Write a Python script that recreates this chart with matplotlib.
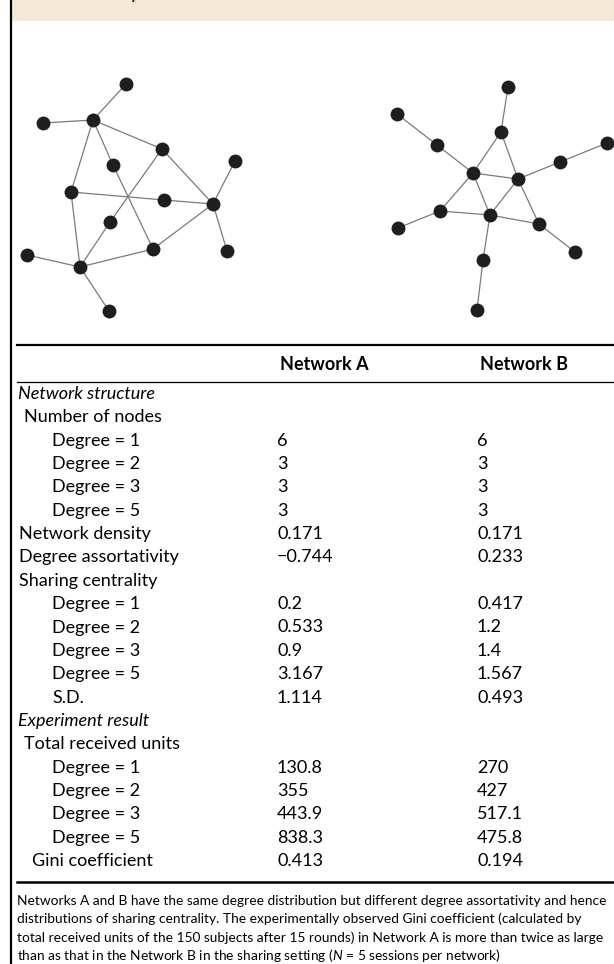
import matplotlib
matplotlib.use("Agg")
import matplotlib.pyplot as plt

plt.rcParams['font.family'] = ['Lato', 'DejaVu Sans']
plt.rcParams['mathtext.fontset'] = 'custom'
plt.rcParams['mathtext.rm'] = 'Lato'
plt.rcParams['mathtext.it'] = 'Lato:italic'

# network layouts (node positions) and edge lists
net_a_x = [126, 43, 93, 162, 113, 235, 71, 164, 213, 110, 153, 27, 80, 227, 109]
net_a_y = [84, 123, 120, 149, 165, 161, 192, 200, 204, 222, 249, 255, 267, 251, 311]
net_a_edges = [(0, 2), (1, 2), (2, 3), (2, 4), (2, 6), (3, 8), (3, 9), (4, 10),
               (6, 7), (7, 8), (5, 8), (8, 13), (8, 10), (6, 12), (9, 12),
               (10, 12), (11, 12), (12, 14)]

net_b_x = [508, 397, 501, 437, 607, 560, 473, 518, 440, 490, 539, 398, 575, 483, 477]
net_b_y = [87, 114, 132, 145, 143, 162, 173, 179, 211, 215, 224, 228, 252, 260, 310]
net_b_edges = [(0, 2), (2, 6), (2, 7), (1, 3), (3, 6), (6, 7), (6, 8), (6, 9),
               (7, 5), (5, 4), (7, 9), (7, 10), (8, 9), (8, 11), (9, 10),
               (10, 12), (9, 13), (13, 14)]

# table content
col_headers = ["Network A", "Network B"]
row_labels = ["Network structure", "Number of nodes",
              "Degree = 1", "Degree = 2", "Degree = 3", "Degree = 5",
              "Network density", "Degree assortativity", "Sharing centrality",
              "Degree = 1", "Degree = 2", "Degree = 3", "Degree = 5", "S.D.",
              "Experiment result", "Total received units",
              "Degree = 1", "Degree = 2", "Degree = 3", "Degree = 5",
              "Gini coefficient"]
row_kind = ["section", "group", "item", "item", "item", "item",
            "plain", "plain", "plain", "item", "item", "item", "item", "item",
            "section", "group", "item", "item", "item", "item", "gini"]
net_a_vals = [None, None, 6, 3, 3, 3, 0.171, -0.744, None,
              0.2, 0.533, 0.9, 3.167, 1.114, None, None,
              130.8, 355, 443.9, 838.3, 0.413]
net_b_vals = [None, None, 6, 3, 3, 3, 0.171, 0.233, None,
              0.417, 1.2, 1.4, 1.567, 0.493, None, None,
              270, 427, 517.1, 475.8, 0.194]

footnote = [
    "Networks A and B have the same degree distribution but different degree assortativity and hence",
    "distributions of sharing centrality. The experimentally observed Gini coefficient (calculated by",
    "total received units of the 150 subjects after 15 rounds) in Network A is more than twice as large",
    r"than as that in the Network B in the sharing setting ($N$ = 5 sessions per network)",
]

W, H = 614, 964
fig = plt.figure(figsize=(W / 100, H / 100), dpi=100)
ax = fig.add_axes([0, 0, 1, 1])
ax.set_xlim(0, W)
ax.set_ylim(H, 0)
ax.axis('off')

# header band and left frame
ax.axhspan(0, 20.5, xmin=11 / W, xmax=1, color='#f5e9d5', lw=0, zorder=0)
ax.axvline(10.5, color='black', lw=1.6)
fig.text(130 / W, 1 + 1.5 / H, "y", fontsize=12, fontweight='bold',
         color='#222222', va='baseline')


def draw_net(xs, ys, edges):
    for i, j in edges:
        ax.plot([xs[i], xs[j]], [ys[i], ys[j]], color='#7a7a7a', lw=0.9,
                zorder=1, solid_capstyle='butt')
    ax.scatter(xs, ys, s=100, color='#1e1e1e', zorder=2, linewidths=0)


draw_net(net_a_x, net_a_y, net_a_edges)
draw_net(net_b_x, net_b_y, net_b_edges)

# table rules
ax.plot([17, W], [345, 345], color='black', lw=1.6)
ax.plot([17, W], [382, 382], color='black', lw=0.9)
ax.plot([17, W], [882, 882], color='black', lw=1.8)

fs = 13.0
col_x = [277, 477]
for x, h in zip(col_x, col_headers):
    ax.text(x + 3, 365, h, fontsize=fs, fontweight='bold', va='center', ha='left')

indent = {"section": 18, "group": 24, "item": 52, "plain": 19, "gini": 32}
row_y0, row_dy = 394, 23.35


def fmt(v):
    if v is None:
        return ""
    return f"{v:g}".replace("-", "\u2212")


for k, (lab, kind) in enumerate(zip(row_labels, row_kind)):
    y = row_y0 + k * row_dy
    style = 'italic' if kind == "section" else 'normal'
    ax.text(indent[kind], y, lab, fontsize=fs, style=style, va='center', ha='left')
    ax.text(col_x[0], y, fmt(net_a_vals[k]), fontsize=fs, va='center', ha='left')
    ax.text(col_x[1], y, fmt(net_b_vals[k]), fontsize=fs, va='center', ha='left')

for k, line in enumerate(footnote):
    ax.text(17, 901 + k * 18.2, line, fontsize=9.9, va='center', ha='left')

fig.savefig("out.png", dpi=100)
